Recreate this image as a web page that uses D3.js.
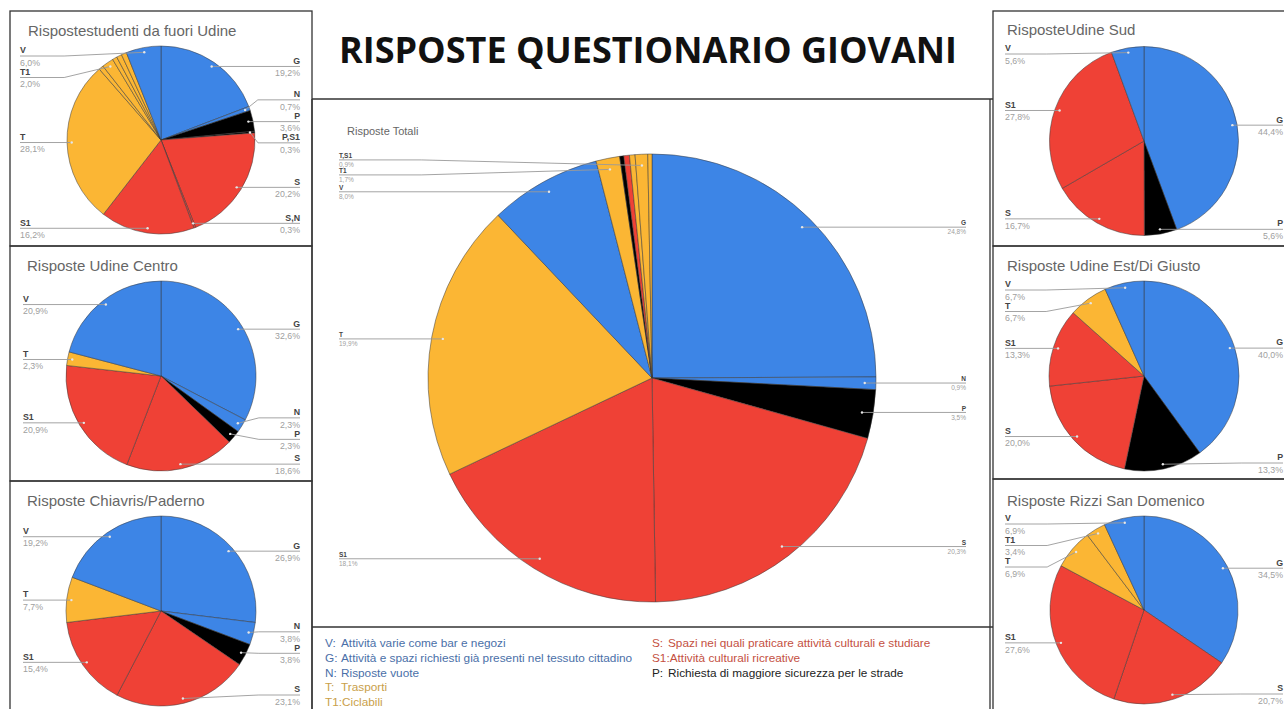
<!DOCTYPE html>
<html>
<head>
<meta charset="utf-8">
<script src="https://cdn.jsdelivr.net/npm/d3@7"></script>
<style>
  html, body { margin: 0; padding: 0; background: #fff; overflow: hidden; }
  svg { display: block; font-family: "Liberation Sans", Arial, sans-serif; }
</style>
</head>
<body>
<svg id="chart" width="1284" height="709"></svg>
<script>
// ==================== DATA ====================
// slice order is clockwise from 12 o'clock, as in the sheet charts
const totKeys = ['G', 'N', 'P', 'S', 'S1', 'T', 'V', 'T1', 'P,T', 'S,T', 'T,G', 'T,S1', 'T,V'];
const totValues = [24.8, 0.9, 3.5, 20.3, 18.1, 19.9, 8.0, 1.7, 0.3, 0.4, 0.4, 0.9, 0.3];
const totHidden = ['P,T', 'S,T', 'T,G', 'T,V'];

const fuoriKeys = ['G', 'N', 'P', 'P,S1', 'S', 'S,N', 'S1', 'T', 'T,V', 'T1', 'T,S', 'T,G', 'T,P', 'V'];
const fuoriValues = [19.2, 0.7, 3.6, 0.3, 20.2, 0.3, 16.2, 28.1, 0.8, 2.0, 0.8, 0.9, 0.9, 6.0];
const fuoriHidden = ['T,V', 'T,S', 'T,G', 'T,P'];

const centroKeys = ['G', 'N', 'P', 'S', 'S1', 'T', 'V'];
const centroValues = [32.6, 2.3, 2.3, 18.6, 20.9, 2.3, 20.9];

const chiavrisKeys = ['G', 'N', 'P', 'S', 'S1', 'T', 'V'];
const chiavrisValues = [26.9, 3.8, 3.8, 23.1, 15.4, 7.7, 19.2];

const sudKeys = ['G', 'P', 'S', 'S1', 'V'];
const sudValues = [44.4, 5.6, 16.7, 27.8, 5.6];

const estKeys = ['G', 'P', 'S', 'S1', 'T', 'V'];
const estValues = [40.0, 13.3, 20.0, 13.3, 6.7, 6.7];

const rizziKeys = ['G', 'S', 'S1', 'T', 'T1', 'V'];
const rizziValues = [34.5, 20.7, 27.6, 6.9, 3.4, 6.9];

const legendLeft = [
  ['V:', 'Attività varie come bar e negozi'],
  ['G:', 'Attività e spazi richiesti già presenti nel tessuto cittadino'],
  ['N:', 'Risposte vuote'],
  ['T:', 'Trasporti'],
  ['T1:', 'Ciclabili'],
];
const legendRight = [
  ['S:', 'Spazi nei quali praticare attività culturali e studiare'],
  ['S1:', 'Attività culturali ricreative'],
  ['P:', 'Richiesta di maggiore sicurezza per le strade'],
];

// ==================== DRAW ====================
const svg = d3.select('#chart');

const sliceColors = { G: '#3d85e6', V: '#3d85e6', N: '#3d85e6', P: '#000000', S: '#ef4136', T: '#fbb634' };
const legendColors = { G: '#4a6fa8', V: '#4a6fa8', N: '#4a6fa8', P: '#222222', S: '#c4503f', T: '#c9a04a' };
const colorOf = (k) => sliceColors[k[0]];
const fmtPct = (v) => v.toFixed(1).replace('.', ',') + '%';

// panel frames
const frame = svg.append('g').attr('fill', 'none').attr('stroke', '#333').attr('stroke-width', 1.3);
[[10, 11, 302, 235], [10, 246, 302, 235], [10, 481, 302, 240],
 [993, 11, 300, 235], [993, 246, 300, 233], [993, 479, 300, 240]].forEach(([x, y, w, h]) => {
  frame.append('rect').attr('x', x).attr('y', y).attr('width', w).attr('height', h);
});
frame.append('line').attr('x1', 312).attr('x2', 993).attr('y1', 99).attr('y2', 99);
frame.append('line').attr('x1', 312).attr('x2', 993).attr('y1', 627).attr('y2', 627);
frame.append('line').attr('x1', 312).attr('x2', 312).attr('y1', 99).attr('y2', 709);
frame.append('line').attr('x1', 990).attr('x2', 990).attr('y1', 99).attr('y2', 709);

// main title
svg.append('text')
  .attr('x', 648).attr('y', 63)
  .attr('text-anchor', 'middle')
  .attr('font-family', '"Open Sans", "DejaVu Sans", sans-serif')
  .attr('font-weight', 700)
  .attr('font-size', 36)
  .attr('fill', '#111')
  .text('RISPOSTE QUESTIONARIO GIOVANI');

function drawPie(cfg) {
  const hidden = cfg.hidden || [];
  const rows = cfg.keys.map((k, i) => ({ key: k, value: cfg.values[i], shown: !hidden.includes(k) }));

  svg.append('text')
    .attr('x', cfg.titleX).attr('y', cfg.titleY)
    .attr('font-size', cfg.titleSize)
    .attr('fill', '#666')
    .text(cfg.title);

  const g = svg.append('g').attr('transform', `translate(${cfg.cx},${cfg.cy})`);
  const arcs = d3.pie().sort(null).value((d) => d.value)(rows);
  const arc = d3.arc().innerRadius(0).outerRadius(cfg.r);

  g.selectAll('path.slice')
    .data(arcs)
    .join('path')
    .attr('class', 'slice')
    .attr('d', arc)
    .attr('fill', (d) => colorOf(d.data.key))
    .attr('stroke', '#3a3a3a')
    .attr('stroke-opacity', 0.85)
    .attr('stroke-width', 0.6);

  // label anchors at 95% radius, mid-angle
  const dotR = cfg.r * 0.95;
  const labels = arcs.filter((d) => d.data.shown).map((d) => {
    const a = (d.startAngle + d.endAngle) / 2;
    const x = dotR * Math.sin(a);
    const y = -dotR * Math.cos(a);
    return { d, x, y, ly: y, side: a > Math.PI ? 'left' : 'right' };
  });

  // spread overlapping labels on each side, keep them under the title and above the frame
  const minY = cfg.minY - cfg.cy;
  const maxY = cfg.maxY - cfg.cy;
  ['left', 'right'].forEach((side) => {
    const list = labels.filter((l) => l.side === side).sort((a, b) => a.y - b.y);
    for (let it = 0; it < 200; it++) {
      for (let i = 1; i < list.length; i++) {
        const ov = cfg.gap - (list[i].ly - list[i - 1].ly);
        if (ov > 0) {
          list[i].ly += ov / 2;
          list[i - 1].ly -= ov / 2;
        }
      }
      list.forEach((l) => { l.ly = Math.max(minY, Math.min(maxY, l.ly)); });
    }
  });

  labels.forEach((l) => {
    const sgn = l.side === 'right' ? 1 : -1;
    const endX = (l.side === 'right' ? cfg.rightX : cfg.leftX) - cfg.cx;
    let path;
    if (Math.abs(l.ly - l.y) < 0.5) {
      path = `M${l.x},${l.y}L${endX},${l.y}`;
    } else {
      const elbowX = sgn * Math.max(cfg.r * 1.03, Math.abs(l.x) + 8);
      path = `M${l.x},${l.y}L${elbowX},${l.ly}L${endX},${l.ly}`;
    }
    g.append('path')
      .attr('d', path)
      .attr('fill', 'none')
      .attr('stroke', '#9a9a9a')
      .attr('stroke-width', 0.9);
    g.append('circle')
      .attr('cx', l.x).attr('cy', l.y).attr('r', 1.2)
      .attr('fill', '#e6e6e6');

    const anchor = l.side === 'right' ? 'end' : 'start';
    g.append('text')
      .attr('x', endX).attr('y', l.ly - cfg.fs * 0.3)
      .attr('text-anchor', anchor)
      .attr('font-size', cfg.fs)
      .attr('font-weight', 700)
      .attr('fill', '#444')
      .text(l.d.data.key);
    g.append('text')
      .attr('x', endX).attr('y', l.ly + cfg.fs * 1.1)
      .attr('text-anchor', anchor)
      .attr('font-size', cfg.fs)
      .attr('fill', '#a0a0a0')
      .text(fmtPct(l.d.data.value));
  });
}

drawPie({ title: 'Risposte Totali', titleX: 347, titleY: 135, titleSize: 11,
  keys: totKeys, values: totValues, hidden: totHidden,
  cx: 652, cy: 378, r: 224, leftX: 339, rightX: 966, fs: 6.5, gap: 15, minY: 150, maxY: 615 });

drawPie({ title: 'Rispostestudenti da fuori Udine', titleX: 28, titleY: 36, titleSize: 15,
  keys: fuoriKeys, values: fuoriValues, hidden: fuoriHidden,
  cx: 161, cy: 140, r: 94, leftX: 20, rightX: 300, fs: 8.8, gap: 21.5, minY: 56, maxY: 229 });

drawPie({ title: 'Risposte Udine Centro', titleX: 27, titleY: 271, titleSize: 15,
  keys: centroKeys, values: centroValues,
  cx: 161, cy: 376, r: 95, leftX: 23, rightX: 300, fs: 8.8, gap: 21.5, minY: 290, maxY: 465 });

drawPie({ title: 'Risposte Chiavris/Paderno', titleX: 27, titleY: 506, titleSize: 15,
  keys: chiavrisKeys, values: chiavrisValues,
  cx: 161, cy: 611, r: 95, leftX: 23, rightX: 300, fs: 8.8, gap: 21.5, minY: 525, maxY: 695 });

drawPie({ title: 'RisposteUdine Sud', titleX: 1007, titleY: 35, titleSize: 15,
  keys: sudKeys, values: sudValues,
  cx: 1144, cy: 141, r: 94.5, leftX: 1005, rightX: 1283, fs: 8.8, gap: 21.5, minY: 54, maxY: 229 });

drawPie({ title: 'Risposte Udine Est/Di Giusto', titleX: 1007, titleY: 271, titleSize: 15,
  keys: estKeys, values: estValues,
  cx: 1144, cy: 376, r: 95, leftX: 1005, rightX: 1283, fs: 8.8, gap: 21.5, minY: 290, maxY: 463 });

drawPie({ title: 'Risposte Rizzi San Domenico', titleX: 1007, titleY: 506, titleSize: 15,
  keys: rizziKeys, values: rizziValues,
  cx: 1144, cy: 610, r: 94, leftX: 1005, rightX: 1283, fs: 8.8, gap: 21.5, minY: 524, maxY: 694 });

// legend
function drawLegend(items, x, y0) {
  items.forEach(([code, desc], i) => {
    const t = svg.append('text')
      .attr('x', x).attr('y', y0 + i * 14.8)
      .attr('font-size', 11.8)
      .attr('fill', legendColors[code[0]]);
    t.append('tspan').text(code);
    // single-letter codes have a gap before the description, two-letter ones do not
    t.append('tspan').attr('x', code.length > 2 ? null : x + 16).text(desc);
  });
}
drawLegend(legendLeft, 325, 647);
drawLegend(legendRight, 652, 647);
</script>
</body>
</html>
